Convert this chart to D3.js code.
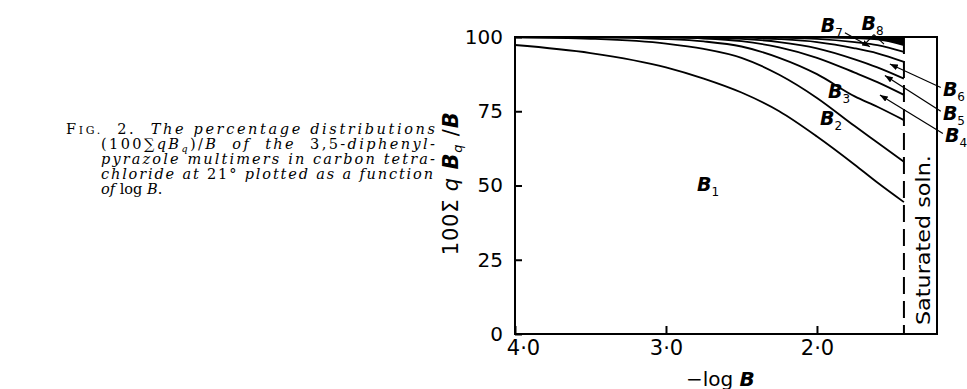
<!DOCTYPE html>
<html>
<head>
<meta charset="utf-8">
<script src="https://cdn.jsdelivr.net/npm/d3@7"></script>
<style>
body { margin: 0; background: #fff; }
</style>
</head>
<body>
<div id="chart"></div>
<script>
const width = 967;
const height = 389;
const margin = {left: 515, right: 30, top: 37, bottom: 55};

// -log B values where the curves were read
const logB = [4.0, 3.5, 3.0, 2.75, 2.5, 2.25, 2.0, 1.75, 1.6, 1.424];
// cumulative percentages, B1, B1+B2, ... B1..B8
const c1 = [97.3, 94.6, 89.8, 86.0, 81.3, 75.0, 66.5, 57.0, 51.0, 44.4];
const c2 = [99.9, 99.4, 97.8, 96.0, 93.0, 87.3, 79.5, 70.0, 64.5, 58.0];
const c3 = [100, 99.9, 99.3, 98.5, 96.8, 93.0, 87.5, 80.0, 76.5, 72.0];
const c4 = [100, 100, 99.8, 99.5, 98.6, 96.5, 93.0, 88.0, 84.8, 80.5];
const c5 = [100, 100, 100, 99.8, 99.4, 98.3, 96.2, 92.5, 89.8, 86.0];
const c6 = [100, 100, 100, 100, 99.8, 99.3, 98.3, 96.2, 94.5, 91.6];
const c7 = [100, 100, 100, 100, 100, 99.8, 99.4, 98.3, 97.3, 95.0];
const c8 = [100, 100, 100, 100, 100, 100, 99.9, 99.6, 99.2, 97.3];
const curves = [c1, c2, c3, c4, c5, c6, c7, c8];

const saturation = 1.424;
const xTicks = [4.0, 3.0, 2.0];
const yTicks = [0, 25, 50, 75, 100];

// region labels (position in data units)
const labelNum = ["1", "2", "3", "4", "5", "6", "7", "8"];
const labelX = [2.795, 1.980, 1.927, 1.152, 1.166, 1.166, 1.975, 1.705];
const labelY = [48.0, 70.4, 79.5, 64.5, 72.0, 80.0, 101.8, 102.4];

// pointer lines [x1, y1, x2, y2] in data units
const pointers = [
  [1.166, 67.5, 1.583, 80.5],
  [1.180, 75.0, 1.550, 87.0],
  [1.180, 83.0, 1.517, 90.9],
  [1.815, 101.4, 1.649, 96.7],
  [1.623, 100.8, 1.675, 98.0],
  [1.623, 100.8, 1.556, 97.6]
];

const caption = [
  [["F", "up", 14.5], ["IG.", "up", 11], ["  2.  ", "up", 14.5], ["The percentage distributions", "it", 14.5]],
  [["(100\u2211", "up", 14.5], ["qB", "it", 14.5], ["q", "sub", 9.5], [")/", "up", 14.5], ["B", "it", 14.5], ["  of  the  ", "it", 14.5], ["3,5-", "up", 14.5], ["diphenyl-", "it", 14.5]],
  [["pyrazole multimers in carbon tetra-", "it", 14.5]],
  [["chloride at ", "it", 14.5], ["21\u00b0", "up", 14.5], [" plotted as a function", "it", 14.5]],
  [["of ", "it", 14.5], ["log ", "up", 14.5], ["B", "it", 14.5], [".", "up", 14.5]]
];

const svg = d3.select("#chart")
  .append("svg")
  .attr("width", width)
  .attr("height", height);

const xScale = d3.scaleLinear()
  .domain([4.0, 1.205])
  .range([margin.left, width - margin.right]);

const yScale = d3.scaleLinear()
  .domain([0, 100])
  .range([height - margin.bottom, margin.top]);

svg.append("defs").append("marker")
  .attr("id", "head")
  .attr("viewBox", "0 -3 8 6")
  .attr("refX", 8)
  .attr("refY", 0)
  .attr("markerUnits", "userSpaceOnUse")
  .attr("markerWidth", 8)
  .attr("markerHeight", 6)
  .attr("orient", "auto")
  .append("path")
  .attr("d", "M0,-3L8,0L0,3Z")
  .attr("fill", "#000");

// black sliver above the last curve
const area = d3.area()
  .x((d, i) => xScale(logB[i]))
  .y0(yScale(100))
  .y1(d => yScale(d))
  .curve(d3.curveMonotoneX);

svg.append("path")
  .datum(c8)
  .attr("d", area)
  .attr("fill", "#000");

const line = d3.line()
  .x((d, i) => xScale(logB[i]))
  .y(d => yScale(d))
  .curve(d3.curveMonotoneX);

svg.selectAll(".curve")
  .data(curves)
  .enter()
  .append("path")
  .attr("class", "curve")
  .attr("d", line)
  .attr("fill", "none")
  .attr("stroke", "#000")
  .attr("stroke-width", 1.8);

// y axis, ticks point inwards
svg.append("g")
  .attr("transform", `translate(${margin.left},0)`)
  .call(d3.axisLeft(yScale).tickValues(yTicks).tickSize(-7).tickPadding(12))
  .call(g => g.select(".domain").remove())
  .call(g => g.selectAll("line").attr("stroke-width", 2))
  .call(g => g.selectAll("text")
    .attr("font-family", "DejaVu Sans")
    .attr("font-size", 20)
    .attr("fill", "#000"));

svg.append("g")
  .attr("transform", `translate(0,${height - margin.bottom})`)
  .call(d3.axisBottom(xScale).tickValues(xTicks).tickSize(-8).tickPadding(6)
    .tickFormat(d => d.toFixed(1).replace(".", "\u00b7")))
  .call(g => g.select(".domain").remove())
  .call(g => g.selectAll("line").attr("stroke-width", 2))
  .call(g => g.selectAll("text")
    .attr("font-family", "DejaVu Sans")
    .attr("font-size", 21)
    .attr("fill", "#000"))
  .call(g => g.selectAll("text").filter(d => d === 4.0).attr("dx", 8));

// frame
svg.append("rect")
  .attr("x", margin.left)
  .attr("y", margin.top)
  .attr("width", width - margin.left - margin.right)
  .attr("height", height - margin.top - margin.bottom)
  .attr("fill", "none")
  .attr("stroke", "#000")
  .attr("stroke-width", 2);

// saturation limit
svg.append("line")
  .attr("x1", xScale(saturation))
  .attr("x2", xScale(saturation))
  .attr("y1", yScale(100))
  .attr("y2", yScale(0))
  .attr("stroke", "#000")
  .attr("stroke-width", 2)
  .attr("stroke-dasharray", "17,7");

svg.append("text")
  .attr("transform", `translate(930,${yScale(3)}) rotate(-90)`)
  .attr("font-family", "DejaVu Sans")
  .attr("font-size", 19)
  .attr("textLength", 170)
  .attr("lengthAdjust", "spacingAndGlyphs")
  .text("Saturated soln.");

// pointers
svg.selectAll(".pointer")
  .data(pointers)
  .enter()
  .append("line")
  .attr("class", "pointer")
  .attr("x1", d => xScale(d[0]))
  .attr("y1", d => yScale(d[1]))
  .attr("x2", d => xScale(d[2]))
  .attr("y2", d => yScale(d[3]))
  .attr("stroke", "#000")
  .attr("stroke-width", 1.2)
  .attr("marker-end", (d, i) => i < 4 ? "url(#head)" : null);

// B labels
const labels = svg.selectAll(".blab")
  .data(labelNum)
  .enter()
  .append("text")
  .attr("class", "blab")
  .attr("x", (d, i) => xScale(labelX[i]))
  .attr("y", (d, i) => yScale(labelY[i]))
  .attr("font-family", "DejaVu Sans");

labels.append("tspan")
  .attr("font-size", 19)
  .attr("font-weight", "bold")
  .attr("font-style", "italic")
  .text("B");

labels.append("tspan")
  .attr("font-size", 12)
  .attr("dy", 5)
  .text(d => d);

// axis titles
const ylab = svg.append("text")
  .attr("transform", `translate(458,${yScale(26.5)}) rotate(-90)`)
  .attr("font-family", "DejaVu Sans")
  .attr("font-size", 21)
  .attr("textLength", 143)
  .attr("lengthAdjust", "spacing");
ylab.append("tspan").text("100\u03a3");
ylab.append("tspan").attr("font-style", "italic").text(" q ");
ylab.append("tspan").attr("font-weight", "bold").attr("font-style", "italic").text("B");
ylab.append("tspan").attr("font-size", 13).attr("dy", 4).attr("font-style", "italic").text("q");
ylab.append("tspan").attr("dy", -4).text(" /");
ylab.append("tspan").attr("font-weight", "bold").attr("font-style", "italic").text("B");

const xlab = svg.append("text")
  .attr("x", xScale(3.0) + (xScale(2.0) - xScale(3.0)) * 0.36)
  .attr("y", 386)
  .attr("text-anchor", "middle")
  .attr("font-family", "DejaVu Sans")
  .attr("font-size", 20);
xlab.append("tspan").text("\u2212log ");
xlab.append("tspan").attr("font-weight", "bold").attr("font-style", "italic").text("B");

// caption
const capX = [66, 101, 101, 101, 101];
const capW = [369, 334, 334, 332, 0];
caption.forEach((segs, i) => {
  const t = svg.append("text")
    .attr("x", capX[i])
    .attr("y", 134 + i * 15)
    .attr("font-family", "DejaVu Serif")
    .attr("xml:space", "preserve");
  if (capW[i]) t.attr("textLength", capW[i]).attr("lengthAdjust", "spacing");
  let shifted = false;
  segs.forEach(s => {
    const sp = t.append("tspan")
      .attr("font-size", s[2])
      .attr("font-style", s[1] === "up" ? "normal" : "italic")
      .text(s[0]);
    if (s[1] === "sub") { sp.attr("dy", 3); shifted = true; }
    else if (shifted) { sp.attr("dy", -3); shifted = false; }
  });
});
</script>
</body>
</html>
